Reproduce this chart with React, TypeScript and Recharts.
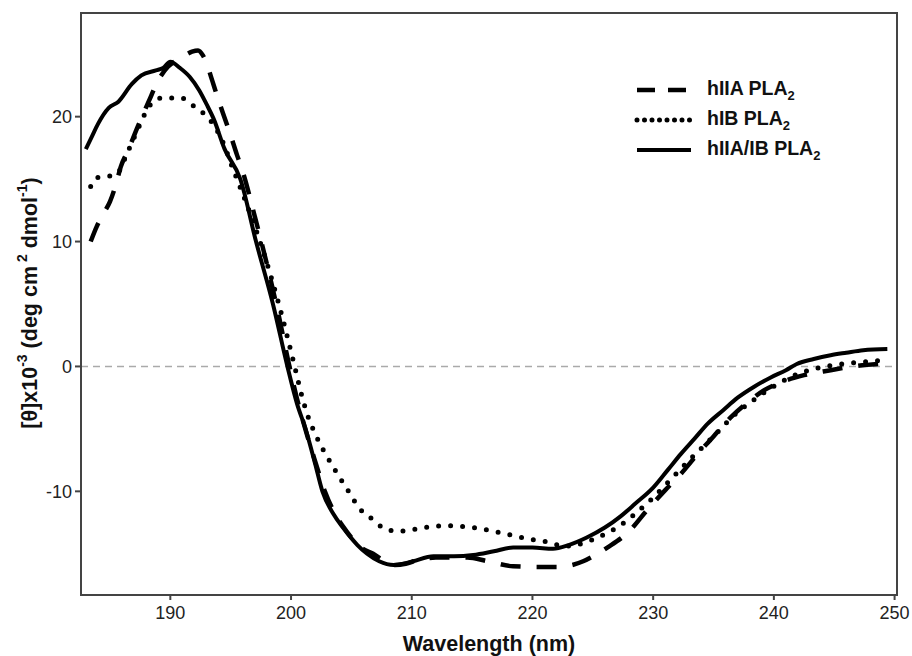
import React from 'react';
import { LineChart, Line, XAxis, YAxis, ReferenceLine, ReferenceArea } from 'recharts';

// hIIA PLA2 (dashed)
const waveIIA = [
  183.4, 183.9, 184.5, 185.0, 185.5, 185.9, 186.5, 187.3, 188.2, 189.0, 189.8, 190.5, 191.2, 191.8,
  192.3, 192.7, 193.1, 193.5, 194.0, 194.5, 195.0, 195.5, 196.0, 197.0, 198.0, 199.0, 199.8, 200.5,
  201.3, 202.0, 202.8, 203.7, 204.6, 205.8, 206.8, 207.6, 208.6, 209.5, 210.5, 212.0, 214.6, 216.3,
  218.4, 220.4, 222.3, 223.3, 224.2, 225.2, 226.2, 227.9, 229.5, 231.0, 232.3, 233.7, 235.0, 236.4,
  237.8, 239.2, 240.5, 242.5, 244.7, 246.5, 248.6, 249.4,
];
const thetaIIA = [
  10.0, 11.2, 12.3, 13.2, 14.6, 16.0, 17.3, 19.2, 21.2, 22.9, 24.0, 24.5, 24.9, 25.2,
  25.3, 24.9, 24.0, 22.8, 21.3, 19.9, 18.5, 17.0, 15.6, 12.0, 8.2, 4.0, 0.3, -2.6,
  -5.4, -7.6, -10.0, -11.9, -13.2, -14.5, -15.0, -15.5, -15.9, -15.8, -15.5, -15.3, -15.3, -15.6,
  -16.0, -16.05, -16.05, -15.9, -15.6, -15.1, -14.5, -13.3, -11.5, -9.9, -8.6, -7.0, -5.6, -4.1,
  -2.9, -1.9, -1.3, -0.7, -0.3, 0.0, 0.2, 0.25,
];

// hIB PLA2 (dotted)
const waveIB = [
  183.4, 183.9, 184.6, 185.3, 185.8, 186.3, 186.9, 187.5, 188.1, 188.7, 189.4, 190.2, 190.9, 191.5,
  192.0, 192.7, 193.4, 194.2, 195.2, 196.4, 197.6, 198.9, 200.3, 200.8, 201.3, 202.2, 203.4, 204.7,
  205.7, 206.7, 207.6, 208.8, 209.9, 211.0, 212.9, 215.1, 217.3, 219.6, 221.5, 222.6, 224.0, 225.6,
  227.0, 228.5, 230.0, 231.5, 233.2, 235.0, 236.6, 238.3, 240.5, 242.0, 243.3, 245.0, 246.6, 248.0,
  249.4,
];
const thetaIB = [
  14.4, 15.1, 15.2, 15.3, 15.7, 16.8, 18.1, 19.4, 20.6, 21.3, 21.5, 21.5, 21.5, 21.2,
  20.8, 20.3, 19.6, 18.3, 15.8, 12.8, 9.5, 5.3, 0.0, -2.0, -3.7, -5.8, -7.9, -9.9,
  -11.4, -12.2, -12.9, -13.2, -13.1, -12.9, -12.75, -12.9, -13.3, -13.8, -14.1, -14.4, -14.2, -13.6,
  -12.9, -11.8, -10.5, -9.0, -7.3, -5.6, -4.0, -2.7, -1.3, -0.6, -0.2, 0.1, 0.3, 0.4,
  0.55,
];

// hIIA/IB PLA2 (solid)
const waveMix = [
  183.0, 183.5, 184.0, 184.9, 185.7, 186.8, 187.6, 188.8, 189.4, 190.0, 190.8, 191.6, 192.4, 193.0,
  193.6, 194.5, 195.8, 197.1, 198.5, 199.7, 200.5, 201.2, 202.0, 202.6, 203.5, 204.3, 205.5, 206.3,
  207.3, 208.5, 209.3, 210.1, 211.8, 213.5, 215.1, 216.8, 218.4, 220.0, 221.7, 223.0, 224.5, 226.0,
  227.3, 228.5, 230.0, 231.2, 232.3, 233.5, 234.5, 235.8, 237.0, 238.4, 239.7, 241.0, 241.9, 243.3,
  244.7, 246.0, 247.4, 249.4,
];
const thetaMix = [
  17.4, 18.4, 19.4, 20.7, 21.2, 22.6, 23.3, 23.7, 23.9, 24.4, 23.9, 23.2, 22.1, 21.0,
  19.8, 17.4, 15.0, 10.0, 5.0, 0.0, -3.0, -5.0, -7.8, -10.0, -11.8, -12.9, -14.3, -15.0,
  -15.6, -15.9, -15.8, -15.6, -15.2, -15.2, -15.1, -14.8, -14.5, -14.5, -14.6, -14.3, -13.7, -12.9,
  -12.0, -11.0, -9.7, -8.3, -7.0, -5.7, -4.6, -3.5, -2.5, -1.6, -0.9, -0.3, 0.2, 0.6,
  0.9, 1.1, 1.3, 1.4,
];

const xTicks = [190, 200, 210, 220, 230, 240, 250];
const yTicks = [-10, 0, 10, 20];

const toPoints = (w: number[], v: number[]) => w.map((x, i) => ({ x, y: v[i] }));

const series = [
  { name: 'hIIA PLA', data: toPoints(waveIIA, thetaIIA), dash: '20 16', legendDash: '18 13', width: 4.5, cap: 'butt' },
  { name: 'hIB PLA', data: toPoints(waveIB, thetaIB), dash: '0 12', legendDash: '0 7.5', width: 5, cap: 'round' },
  { name: 'hIIA/IB PLA', data: toPoints(waveMix, thetaMix), dash: undefined, legendDash: undefined, width: 4, cap: 'butt' },
];

const font = '"Liberation Sans", Arial, sans-serif';
const axisColor = '#444';

const LegendBox = () => (
  <div style={{ position: 'absolute', top: 75, left: 633, fontFamily: font, fontWeight: 'bold', fontSize: 19.5, color: '#111' }}>
    {series.map((s) => (
      <div key={s.name} style={{ display: 'flex', alignItems: 'center', height: 30 }}>
        <svg width={62} height={12}>
          <line x1={4} y1={6} x2={58} y2={6} stroke="#000" strokeWidth={s.width}
            strokeDasharray={s.legendDash} strokeLinecap={s.cap as any} />
        </svg>
        <span style={{ marginLeft: 12 }}>{s.name}<sub style={{ fontSize: 13 }}>2</sub></span>
      </div>
    ))}
  </div>
);

const YTitle = () => (
  <text x={30} y={303} transform="rotate(-90, 30, 303)" textAnchor="middle" dominantBaseline="central"
    fontFamily={font} fontWeight="bold" fontSize={21.5} fill="#111">
    <tspan>[θ]x10</tspan>
    <tspan dy={-8} fontSize={14}>-3</tspan>
    <tspan dy={8}> (deg cm</tspan>
    <tspan dy={-8} fontSize={14}> 2</tspan>
    <tspan dy={8}> dmol</tspan>
    <tspan dy={-8} fontSize={14}>-1</tspan>
    <tspan dy={8}>)</tspan>
  </text>
);

const XTitle = () => (
  <text x={489} y={644} textAnchor="middle" dominantBaseline="central"
    fontFamily={font} fontWeight="bold" fontSize={21.5} fill="#111">
    Wavelength (nm)
  </text>
);

export default function App() {
  return (
    <div style={{ position: 'absolute', left: 0, top: 0, width: 912, height: 656, background: '#fff' }}>
      <LineChart width={912} height={656} margin={{ top: 13, right: 15, left: 0, bottom: 0 }}>
        <XAxis dataKey="x" type="number" domain={[182.6, 250.2]} ticks={xTicks} allowDataOverflow
          height={61} tickSize={5} tickMargin={6}
          tick={{ fill: '#222', fontSize: 18, fontFamily: font }}
          axisLine={{ stroke: axisColor, strokeWidth: 2 }} tickLine={{ stroke: axisColor, strokeWidth: 2 }}
          label={() => <XTitle />} />
        <YAxis type="number" domain={[-18.3, 28.3]} ticks={yTicks} allowDataOverflow
          width={81} tickSize={6} tickMargin={3}
          tick={{ fill: '#222', fontSize: 18, fontFamily: font }}
          axisLine={{ stroke: axisColor, strokeWidth: 2 }} tickLine={{ stroke: axisColor, strokeWidth: 2 }}
          label={() => <YTitle />} />
        <ReferenceArea x1={182.6} x2={250.2} y1={-18.3} y2={28.3} fill="none" stroke={axisColor} strokeWidth={2} />
        <ReferenceLine y={0} stroke="#aaa" strokeWidth={1.5} strokeDasharray="7 5" />
        {series.map((s) => (
          <Line key={s.name} data={s.data} dataKey="y" name={s.name} type="monotone" stroke="#000"
            strokeWidth={s.width} strokeDasharray={s.dash} strokeLinecap={s.cap as any}
            dot={false} activeDot={false} isAnimationActive={false} />
        ))}
      </LineChart>
      <LegendBox />
    </div>
  );
}
